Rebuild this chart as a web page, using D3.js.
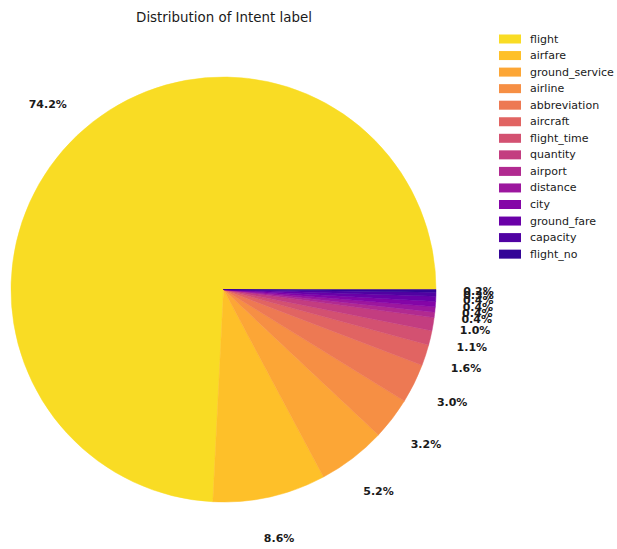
<!DOCTYPE html>
<html>
<head>
<meta charset="utf-8">
<script src="https://cdn.jsdelivr.net/npm/d3@7"></script>
<style>
  body { margin: 0; background: #fff; }
  svg { font-family: "DejaVu Sans", sans-serif; }
</style>
</head>
<body>
<svg id="chart" width="617" height="549"></svg>
<script>
// intent labels and their share (%) as printed on the pie
var intents = ["flight", "airfare", "ground_service", "airline", "abbreviation", "aircraft",
  "flight_time", "quantity", "airport", "distance", "city", "ground_fare", "capacity", "flight_no"];
var shares = [74.2, 8.6, 5.2, 3.2, 3.0, 1.6, 1.1, 1.0, 0.4, 0.4, 0.4, 0.4, 0.3, 0.2];

var svg = d3.select("#chart");
var cx = 223.5, cy = 289.5, r = 212.5;

// plasma_r, sampled like seaborn (endpoints skipped)
var n = intents.length;
var color = d3.scaleOrdinal()
  .domain(intents)
  .range(intents.map(function (d, i) { return d3.interpolatePlasma(1 - (i + 1) / (n + 1)); }));

var data = intents.map(function (d, i) { return { name: d, value: shares[i] }; });

// matplotlib style: start at 3 o'clock, go counter-clockwise
var pie = d3.pie().value(function (d) { return d.value; }).sort(null)
  .startAngle(Math.PI / 2).endAngle(Math.PI / 2 - 2 * Math.PI);

var arc = d3.arc().innerRadius(0).outerRadius(r);
var labelArc = d3.arc().innerRadius(r * 1.2).outerRadius(r * 1.2);

var g = svg.append("g").attr("transform", "translate(" + cx + "," + cy + ")");

var arcs = pie(data);
g.selectAll("path.slice").data(arcs).enter().append("path")
  .attr("class", "slice")
  .attr("d", arc)
  .attr("fill", function (d) { return color(d.data.name); })
  .attr("stroke", function (d) { return color(d.data.name); })
  .attr("stroke-width", 0.5);

// small slices pile their labels on top of each other, same as the original
g.selectAll("text.pct").data(arcs).enter().append("text")
  .attr("class", "pct")
  .attr("x", function (d) { return labelArc.centroid(d)[0]; })
  .attr("y", function (d) { return labelArc.centroid(d)[1]; })
  .attr("text-anchor", "middle")
  .attr("dominant-baseline", "central")
  .style("font-size", "11px")
  .style("font-weight", "bold")
  .style("fill", "#1a1a1a")
  .text(function (d) { return d.data.value.toFixed(1) + "%"; });

svg.append("text")
  .attr("x", 224)
  .attr("y", 22)
  .attr("text-anchor", "middle")
  .style("font-size", "13.4px")
  .style("fill", "#1a1a1a")
  .text("Distribution of Intent label");

// legend
var legend = svg.append("g").attr("transform", "translate(499,39)");
var rows = legend.selectAll("g").data(intents).enter().append("g")
  .attr("transform", function (d, i) { return "translate(0," + (i * 16.55) + ")"; });
rows.append("rect")
  .attr("x", 0).attr("y", -4.5)
  .attr("width", 22).attr("height", 9)
  .attr("fill", function (d) { return color(d); });
rows.append("text")
  .attr("x", 31).attr("y", 0)
  .attr("dominant-baseline", "central")
  .style("font-size", "11px")
  .style("fill", "#1a1a1a")
  .text(function (d) { return d; });
</script>
</body>
</html>
